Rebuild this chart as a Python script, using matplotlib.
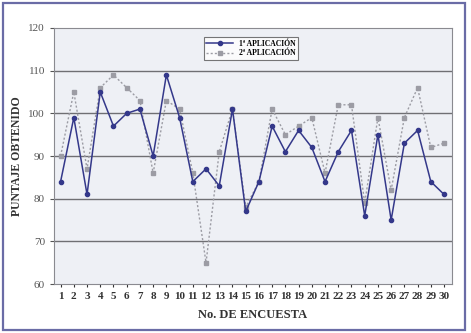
import matplotlib
matplotlib.use('Agg')
import matplotlib.pyplot as plt
from matplotlib.patches import Rectangle

encuesta = list(range(1, 31))
aplicacion_1 = [84, 99, 81, 105, 97, 100, 101, 90, 109, 99,
                84, 87, 83, 101, 77, 84, 97, 91, 96, 92,
                84, 91, 96, 76, 95, 75, 93, 96, 84, 81]
aplicacion_2 = [90, 105, 87, 106, 109, 106, 103, 86, 103, 101,
                86, 65, 91, 101, 78, 84, 101, 95, 97, 99,
                86, 102, 102, 79, 99, 82, 99, 106, 92, 93]
y_ticks = [60, 70, 80, 90, 100, 110, 120]

plt.rcParams['font.family'] = ['Liberation Serif', 'DejaVu Serif']

fig = plt.figure(figsize=(4.71, 3.33), dpi=100)
fig.patch.set_facecolor('white')
ax = fig.add_axes([0.1146, 0.147, 0.845, 0.769])
ax.set_facecolor('#eef0f5')

# outer frame around the whole chart
fig.patches.append(Rectangle((0.007, 0.009), 0.981, 0.982, transform=fig.transFigure,
                             fill=False, edgecolor='#6a6ca6', linewidth=1.6))

for y in y_ticks[1:-1]:
    ax.axhline(y, color='#6f6f73', linewidth=1.0, zorder=1)

ax.plot(encuesta, aplicacion_1, color='#34388a', linewidth=1.1, marker='o',
        markersize=3.0, label='1ª APLICACIÓN', zorder=3)
ax.plot(encuesta, aplicacion_2, color='#9c9ca4', linewidth=1.0, linestyle=(0, (1.5, 1.5)),
        marker='s', markersize=2.8, label='2ª APLICACIÓN', zorder=2)

ax.set_xlim(0.5, 30.6)
ax.set_ylim(60, 120)
ax.set_yticks(y_ticks)
ax.set_xticks(encuesta)
ax.set_xticklabels([str(i) for i in encuesta], fontsize=8, fontweight='bold', color='#333333')
ax.tick_params(axis='y', labelsize=8, colors='#555555', length=3)
ax.tick_params(axis='x', length=2, colors='#333333')
for s in ax.spines.values():
    s.set_color('#8a8a90')
    s.set_linewidth(0.8)

ax.set_xlabel('No. DE ENCUESTA', fontsize=9, fontweight='bold', color='#333333', labelpad=6)
ax.set_ylabel('PUNTAJE OBTENIDO', fontsize=8.5, fontweight='bold', color='#333333', labelpad=4)

leg = ax.legend(loc='upper center', bbox_to_anchor=(0.495, 0.98), fontsize=5.5,
                frameon=True, fancybox=False, edgecolor='#555555', handlelength=3.5,
                borderpad=0.35, labelspacing=0.25)
leg.get_frame().set_facecolor('white')
leg.get_frame().set_linewidth(0.8)
for t in leg.get_texts():
    t.set_fontweight('bold')

fig.savefig('out.png', dpi=100)
